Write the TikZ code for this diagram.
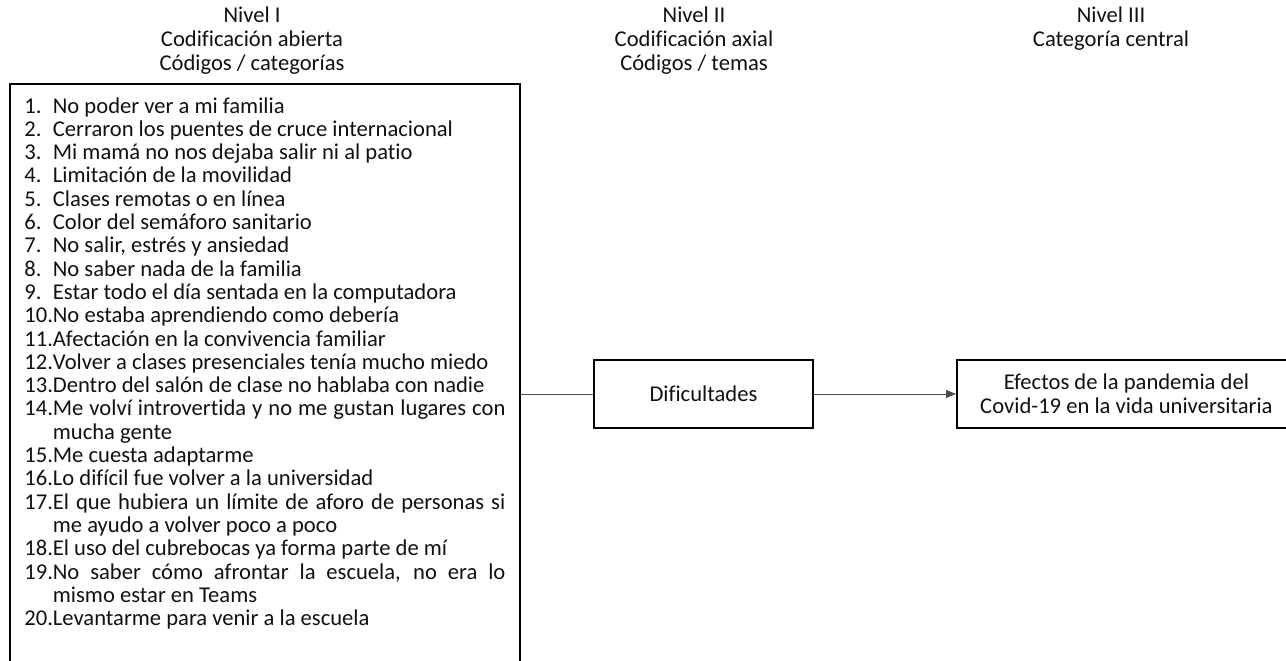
\documentclass[tikz,border=0pt]{standalone}
\usepackage{fontspec}
\setmainfont{Carlito}[Ligatures=CommonOff]
\usetikzlibrary{positioning,arrows.meta}
\definecolor{ink}{HTML}{111111}
\definecolor{rule}{HTML}{000000}
\definecolor{link}{HTML}{4D4D4D}
\newlength{\codind}
\setlength{\codind}{28.5pt}
\newcommand{\codigo}[2]{\hangindent=\codind\hangafter=1\noindent\makebox[\codind][l]{#1}#2\par}

\begin{document}
\begin{tikzpicture}[
    x=1pt, y=-1pt,
    >={Triangle[length=10pt,width=8pt]},
    every node/.style={font=\fontsize{22.6pt}{24pt}\selectfont, text=ink},
    nivel/.style={align=center, inner sep=0pt},
    caja/.style={rectangle, draw=rule, line width=1.8pt, align=center,
                 inner sep=0pt, minimum height=68pt},
    listabox/.style={rectangle, draw=rule, line width=1.8pt,
                     inner xsep=14.5pt, inner ysep=13.5pt},
    enlace/.style={line width=1pt, draw=link},
    arr/.style={->, line width=1pt, draw=link},
]

\path[use as bounding box, clip] (0,0) rectangle (1286,661);

% --- Column headings ---
\node[nivel] (nivel1) at (252,41)
  {Nivel I\\Codificación abierta\\Códigos / categorías};
\node[nivel] (nivel2) at (694,41)
  {Nivel II\\Codificación axial\\Códigos / temas};
\node[nivel] (nivel3) at (1111,29)
  {Nivel III\\Categoría central};

% --- Level I: open codes ---
\node[listabox, anchor=north west] (codigos) at (9,83) {%
  \parbox[t][640pt][t]{481pt}{%
    \fontsize{22.6pt}{23.3pt}\selectfont
    \hyphenpenalty=10000 \tolerance=9999 \emergencystretch=20pt
    \codigo{1.}{No poder ver a mi familia}
    \codigo{2.}{Cerraron los puentes de cruce internacional}
    \codigo{3.}{Mi mamá no nos dejaba salir ni al patio}
    \codigo{4.}{Limitación de la movilidad}
    \codigo{5.}{Clases remotas o en línea}
    \codigo{6.}{Color del semáforo sanitario}
    \codigo{7.}{No salir, estrés y ansiedad}
    \codigo{8.}{No saber nada de la familia}
    \codigo{9.}{Estar todo el día sentada en la computadora}
    \codigo{10.}{No estaba aprendiendo como debería}
    \codigo{11.}{Afectación en la convivencia familiar}
    \codigo{12.}{Volver a clases presenciales tenía mucho miedo}
    \codigo{13.}{Dentro del salón de clase no hablaba con nadie}
    \codigo{14.}{Me volví introvertida y no me gustan lugares con\linebreak mucha gente}
    \codigo{15.}{Me cuesta adaptarme}
    \codigo{16.}{Lo difícil fue volver a la universidad}
    \codigo{17.}{El que hubiera un límite de aforo de personas si\linebreak me ayudo a volver poco a poco}
    \codigo{18.}{El uso del cubrebocas ya forma parte de mí}
    \codigo{19.}{No saber cómo afrontar la escuela, no era lo\linebreak mismo estar en Teams}
    \codigo{20.}{Levantarme para venir a la escuela}
  }};

% --- Level II: axial code ---
\node[caja, minimum width=219pt] (dificultades) at (703.5,394) {Dificultades};

% --- Level III: central category ---
\node[caja, minimum width=339pt, anchor=west] (efectos) at (956,394)
  {Efectos de la pandemia del\\Covid-19 en la vida universitaria};

% --- Connectors ---
\draw[enlace] (dificultades.west -| codigos.east) -- (dificultades.west);
\draw[arr] (dificultades.east) -- (efectos.west);

\end{tikzpicture}
\end{document}
